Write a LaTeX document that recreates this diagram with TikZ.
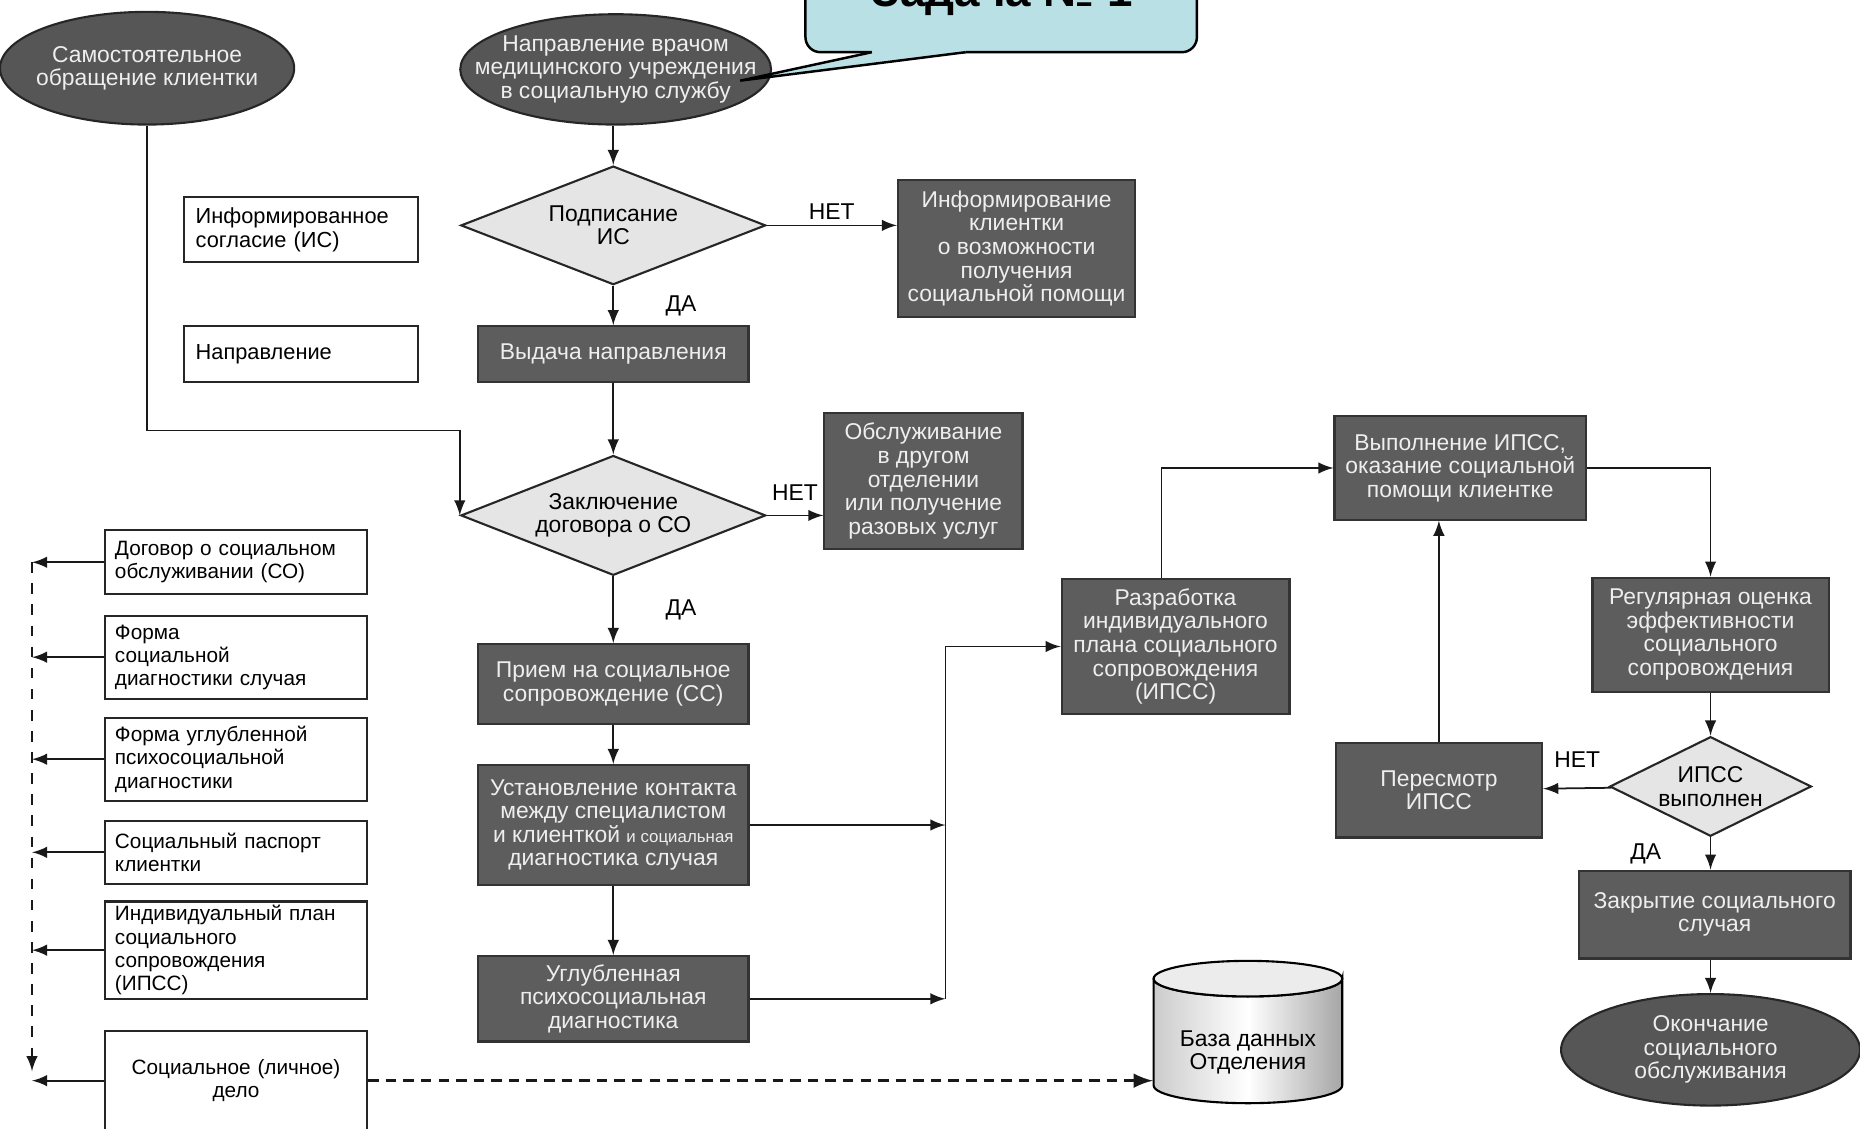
\documentclass[tikz,border=0pt]{standalone}
\usepackage{fontspec}
\setmainfont{Liberation Sans}
\usetikzlibrary{shapes.geometric}
\definecolor{boxgray}{RGB}{93,93,93}
\definecolor{ovalgray}{RGB}{86,86,86}
\definecolor{rhombgray}{RGB}{229,229,229}
\definecolor{callcyan}{RGB}{185,224,228}
\definecolor{textgray}{RGB}{238,238,238}
\newcommand{\upx}{0.011862cm}
\tikzset{wh/.style 2 args = {minimum width=#1*\upx, minimum height=#2*\upx}}
\tikzset{dark/.style = {draw=black!80, fill=boxgray, text=textgray, align=center, inner sep=0, line width=0.6pt}}
\tikzset{oval/.style = {ellipse, draw=black!85, fill=ovalgray, text=textgray, align=center, inner sep=0, line width=0.6pt}}
\tikzset{rhomb/.style = {diamond, draw=black!85, fill=rhombgray, align=center, inner sep=0, line width=0.6pt}}
\tikzset{doc/.style = {draw=black!85, fill=white, align=left, inner xsep=0.1cm, inner ysep=0, line width=0.6pt, font=\fontsize{5.9}{6.6}\selectfont}}
\tikzset{flow/.style = {->, draw=black!90, line width=0.5pt}}
\tikzset{lbl/.style = {font=\fontsize{6.5}{7}\selectfont, inner sep=1pt}}

\begin{document}
\begin{tikzpicture}[x=\upx, y=-\upx, >=latex, font=\fontsize{6.5}{6.7}\selectfont]
    \useasboundingbox (0,0) rectangle (1568,951);

    % main column
    \node [oval, wh={248}{95}, inner xsep=-0.1cm] (selfreq) at (124,57.5) {Самостоятельное\\обращение клиентки};
    \node [oval, wh={262}{93}, inner xsep=-0.36cm] (medref) at (519,58.5) {Направление врачом\\медицинского учреждения\\в социальную службу};
    \node [rhomb, wh={257}{100}, aspect=2.5] (signic) at (517,190) {Подписание\\ИС};
    \node [dark, wh={200}{115}] (inform) at (857,209.5) {Информирование\\клиентки\\о возможности\\получения\\социальной помощи};
    \node [dark, wh={228}{47}] (issue) at (517,298.5) {Выдача направления};
    \node [rhomb, wh={257}{101}, aspect=2.5] (contract) at (517,434.5) {Заключение\\договора о СО};
    \node [dark, wh={167}{115}] (other) at (778.5,405.5) {Обслуживание\\в другом\\отделении\\или получение\\разовых услуг};
    \node [dark, wh={228}{67}] (accept) at (517,576.5) {Прием на социальное\\сопровождение (СС)};
    \node [dark, wh={228}{101}] (contact) at (517,695.5) {Установление контакта\\между специалистом\\и клиенткой {\fontsize{4.8}{5}\selectfont и социальная}\\диагностика случая};
    \node [dark, wh={228}{72}] (deepdiag) at (517,842) {Углубленная\\психосоциальная\\диагностика};

    % right part
    \node [dark, wh={192}{114}] (plan) at (991,545) {Разработка\\индивидуального\\плана социального\\сопровождения\\(ИПСС)};
    \node [dark, wh={212}{87}] (execute) at (1231,394.5) {Выполнение ИПСС,\\оказание социальной\\помощи клиентке};
    \node [dark, wh={199}{96}] (assess) at (1442,535) {Регулярная оценка\\эффективности\\социального\\сопровождения};
    \node [rhomb, wh={170}{84}, aspect=2] (done) at (1442,663) {ИПСС\\выполнен};
    \node [dark, wh={174}{80}] (revise) at (1213,666) {Пересмотр\\ИПСС};
    \node [dark, wh={229}{74}] (close) at (1445.5,771) {Закрытие социального\\случая};
    \node [oval, wh={252}{94}] (finish) at (1442,885) {Окончание\\социального\\обслуживания};

    % documents
    \node [doc, text width=2.1cm, wh={197}{55}, font=\fontsize{6.2}{6.8}\selectfont] (icform) at (253.5,193.5) {Информированное\\согласие (ИС)};
    \node [doc, text width=2.1cm, wh={197}{47}, font=\fontsize{6.2}{6.8}\selectfont] (refform) at (253.5,298.5) {Направление};
    \node [doc, text width=2.42cm, wh={220}{54}] (dog) at (199,474) {Договор о социальном\\обслуживании (СО)};
    \node [doc, text width=2.42cm, wh={220}{70}] (diagform) at (199,554) {Форма\\социальной\\диагностики случая};
    \node [doc, text width=2.42cm, wh={220}{70}] (deepform) at (199,640) {Форма углубленной\\психосоциальной\\диагностики};
    \node [doc, text width=2.42cm, wh={220}{53}] (passport) at (199,718.5) {Социальный паспорт\\клиентки};
    \node [doc, text width=2.42cm, wh={220}{82}] (planform) at (199,801) {Индивидуальный план\\социального\\сопровождения\\(ИПСС)};
    \node [doc, text width=2.42cm, wh={220}{84}, align=center] (casefile) at (199,911) {Социальное (личное)\\дело};

    % database
    \draw [line width=0.6pt, left color=gray!40, right color=gray!70, middle color=white] (972.5,825) -- (972.5,915) arc (180:0:79.5 and 15) -- (1131.5,825) arc (0:180:79.5 and 15) -- cycle;
    \draw [line width=0.6pt, fill=gray!15] (1052,825) ellipse (79.5 and 15);
    \node [wh={159}{100}, inner sep=0, align=center] (db) at (1052,887) {База данных\\Отделения};

    % task callout
    \fill [callcyan, draw=black, line width=0.7pt, rounded corners=0.15cm] (679,-80) rectangle (1009,44);
    \fill [callcyan] (735,40) -- (735,44) -- (624,68) -- (814,44) -- (814,40) -- cycle;
    \draw [line width=0.7pt] (735,44) -- (624,68) -- (814,44);
    \node [font=\bfseries\fontsize{13}{14}\selectfont, text depth=0pt] (task) at (845,-8) {Задача № 1};

    % connectors
    \draw [flow] (medref.south -| signic.north) -- (signic.north);
    \draw [flow] (signic.east) -- node [lbl, above=0.5pt] {НЕТ} (signic.east -| inform.west);
    \draw [flow] (signic) -- node [lbl, right=0.48cm] {ДА} (issue);
    \draw [flow] (issue) -- (contract);
    \draw [flow] (selfreq.south) -- ++(0,257) -| (contract.west);
    \draw [flow] (contract.east) -- node [lbl, above=3pt] {НЕТ} (contract.east -| other.west);
    \draw [flow] (contract) -- node [lbl, right=0.48cm] {ДА} (accept);
    \draw [flow] (accept) -- (contact);
    \draw [flow] (contact) -- (deepdiag);

    \coordinate (merge) at (797,842);
    \draw [flow] (contact.east) -- (contact.east -| merge);
    \draw [flow] (deepdiag.east) -- (merge);
    \draw [flow] (merge) |- (plan.west);
    \draw [flow] ([xshift=-0.14cm]plan.north) |- (execute.west);
    \draw [flow] (execute.east) -| (assess.north);
    \draw [flow] (assess) -- (done);
    \draw [flow] (done) -- node [lbl, above=0.16cm] {НЕТ} (revise);
    \draw [flow] (revise.north) -- (revise.north |- execute.south);
    \draw [flow] (done.south) -- node [lbl, left=0.45cm] {ДА} (done.south |- close.north);
    \draw [flow] (close.south -| finish.north) -- (finish);

    % documents into the case file
    \coordinate (docbus) at (27,474);
    \coordinate (busend) at (27,903);
    \foreach \d in {dog, diagform, deepform, passport, planform, casefile}
      \draw [flow] (\d.west) -- (\d.west -| docbus);
    \draw [flow, dashed] (docbus) -- (busend);
    \draw [flow, line width=0.9pt, dash pattern=on 3pt off 2pt] (casefile.east) -- (casefile.east -| db.west);
\end{tikzpicture}
\end{document}
